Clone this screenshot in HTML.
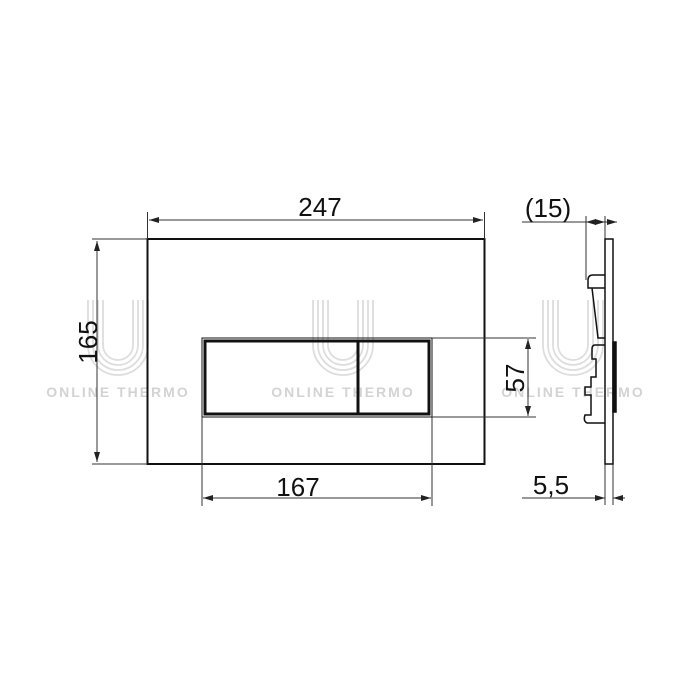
<!DOCTYPE html>
<html><head><style>body{margin:0;background:#fff}svg{display:block}</style></head><body>
<svg width="700" height="700" viewBox="0 0 700 700" xmlns="http://www.w3.org/2000/svg" font-family="Liberation Sans, DejaVu Sans, sans-serif">
<defs>
<marker id="a" viewBox="0 0 10 6" refX="10" refY="3" markerWidth="10" markerHeight="6" orient="auto-start-reverse" markerUnits="userSpaceOnUse"><path d="M0,0L10,3L0,6z" fill="#222"/></marker>
<g id="wm" fill="none" stroke="#ddd" stroke-width="1.8">
<path d="M-30,-95V-50a30,30 0 0 0 60,0V-95M-25,-95V-50a25,25 0 0 0 50,0V-95M-20,-95V-50a20,20 0 0 0 40,0V-95M-15,-95V-50a15,15 0 0 0 30,0V-95"/>
</g>
</defs>
<g>
<use href="#wm" x="118" y="395"/><use href="#wm" x="343" y="395"/><use href="#wm" x="573" y="395"/>
<g fill="#d3d3d3" font-size="14" font-weight="bold" text-anchor="middle" letter-spacing="2">
<text x="118" y="397">ONLINE THERMO</text><text x="343" y="397">ONLINE THERMO</text><text x="573" y="397">ONLINE THERMO</text></g>
</g>
<g stroke="#111" fill="none">
<rect x="147.5" y="239" width="337" height="225" stroke-width="2"/>
<rect x="202" y="338" width="230" height="79" stroke-width="1"/>
<rect x="205" y="341" width="224" height="73" stroke-width="3"/>
<line x1="358" y1="341" x2="358" y2="414" stroke-width="3"/>
</g>
<g stroke="#333" stroke-width="1" fill="none">
<line x1="147.5" y1="212" x2="147.5" y2="239"/><line x1="484.5" y1="212" x2="484.5" y2="239"/>
<line x1="149" y1="220" x2="483" y2="220" marker-start="url(#a)" marker-end="url(#a)"/>
<line x1="92" y1="239" x2="147" y2="239"/><line x1="92" y1="464" x2="147" y2="464"/>
<line x1="97" y1="241" x2="97" y2="462" marker-start="url(#a)" marker-end="url(#a)"/>
<line x1="202" y1="417" x2="202" y2="506"/><line x1="432" y1="417" x2="432" y2="506"/>
<line x1="203" y1="498" x2="431" y2="498" marker-start="url(#a)" marker-end="url(#a)"/>
<line x1="432" y1="338" x2="536" y2="338"/><line x1="432" y1="417" x2="536" y2="417"/>
<line x1="528" y1="339" x2="528" y2="416" marker-start="url(#a)" marker-end="url(#a)"/>
<line x1="522" y1="222" x2="586" y2="222"/><line x1="586" y1="222" x2="605" y2="222" marker-start="url(#a)" marker-end="url(#a)"/>
<line x1="605" y1="222" x2="617" y2="222" marker-end="url(#a)"/>
<line x1="586" y1="216" x2="586" y2="280"/><line x1="605" y1="216" x2="605" y2="240"/>
<line x1="522" y1="498" x2="605" y2="498" marker-end="url(#a)"/>
<line x1="625" y1="498" x2="613" y2="498" marker-end="url(#a)"/>
<line x1="605" y1="464" x2="605" y2="505"/><line x1="613" y1="464" x2="613" y2="505"/>
</g>
<g stroke="#111" fill="none" stroke-width="1.5">
<rect x="605" y="239" width="8" height="225"/>
<rect x="613" y="342" width="3" height="70" fill="#111"/>
<path d="M605,275h-12q-5,0 -5,5v8h4l6,50h7M588,288h17"/>
<path d="M605,345h-10q-3,0 -3,4v10h4v18h-5v10h-6v8h6v20h-6q-2,6 2,8h18"/>
</g>
<g font-size="26" fill="#111" text-anchor="middle">
<text x="320" y="216">247</text>
<text x="298" y="496">167</text>
<text x="548" y="217">(15)</text>
<text x="551" y="494">5,5</text>
<text transform="translate(97,342) rotate(-90)">165</text>
<text transform="translate(524,378) rotate(-90)">57</text>
</g>
</svg>
</body></html>
